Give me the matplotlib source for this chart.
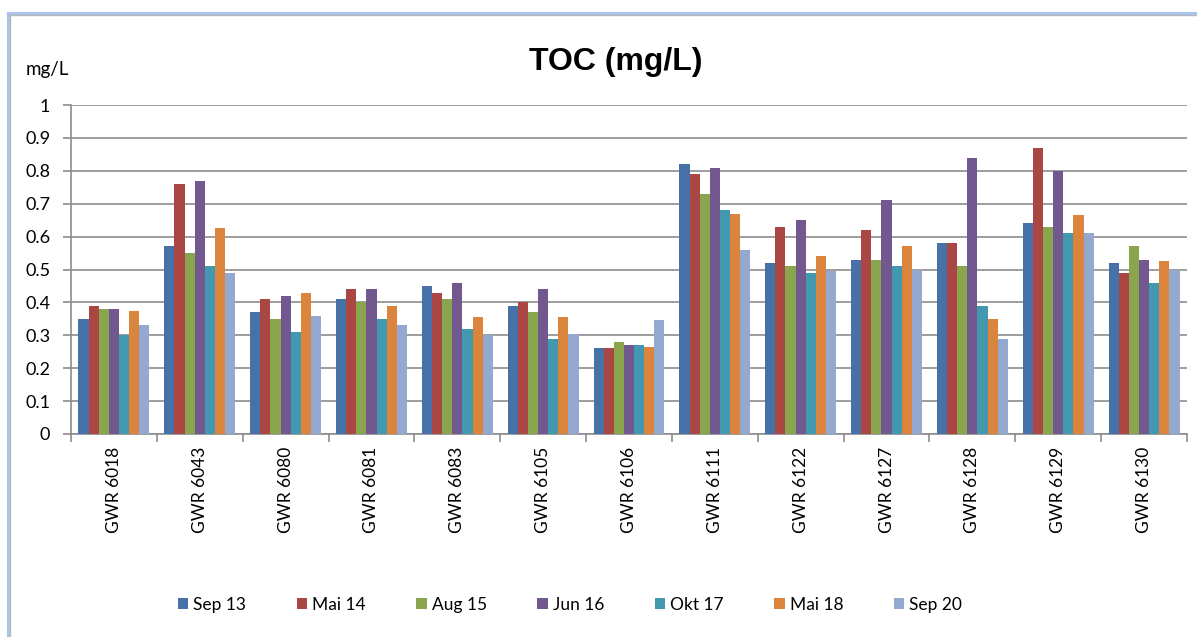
import matplotlib
matplotlib.use("Agg")
import matplotlib.pyplot as plt
import numpy as np
from matplotlib.lines import Line2D

plt.rcParams['font.family'] = ['Lato', 'DejaVu Sans']

stationen = ['GWR 6018', 'GWR 6043', 'GWR 6080', 'GWR 6081', 'GWR 6083',
             'GWR 6105', 'GWR 6106', 'GWR 6111', 'GWR 6122', 'GWR 6127',
             'GWR 6128', 'GWR 6129', 'GWR 6130']

serien = ['Sep 13', 'Mai 14', 'Aug 15', 'Jun 16', 'Okt 17', 'Mai 18', 'Sep 20']

sep13 = [0.35, 0.57, 0.37, 0.41, 0.45, 0.39, 0.26, 0.82, 0.52, 0.53, 0.58, 0.64, 0.52]
mai14 = [0.39, 0.76, 0.41, 0.44, 0.43, 0.40, 0.26, 0.79, 0.63, 0.62, 0.58, 0.87, 0.49]
aug15 = [0.38, 0.55, 0.35, 0.40, 0.41, 0.37, 0.28, 0.73, 0.51, 0.53, 0.51, 0.63, 0.57]
jun16 = [0.38, 0.77, 0.42, 0.44, 0.46, 0.44, 0.27, 0.81, 0.65, 0.71, 0.84, 0.80, 0.53]
okt17 = [0.30, 0.51, 0.31, 0.35, 0.32, 0.29, 0.27, 0.68, 0.49, 0.51, 0.39, 0.61, 0.46]
mai18 = [0.375, 0.625, 0.43, 0.39, 0.355, 0.355, 0.265, 0.67, 0.54, 0.57, 0.35, 0.665, 0.525]
sep20 = [0.33, 0.49, 0.36, 0.33, 0.30, 0.305, 0.345, 0.56, 0.495, 0.50, 0.29, 0.61, 0.50]

werte = [sep13, mai14, aug15, jun16, okt17, mai18, sep20]
farben = ['#4672A8', '#AA4644', '#89A54E', '#71588F', '#4198AF', '#DB843D', '#93A9CF']

fig = plt.figure(figsize=(11.97, 6.37), dpi=100)
ax = fig.add_axes([71 / 1197, 203 / 637, 1116 / 1197, 329 / 637])

x = np.arange(len(stationen))
breite = 0.118
for i, (name, vals) in enumerate(zip(serien, werte)):
    ax.bar(x + (i - 3) * breite, vals, breite, color=farben[i], label=name, zorder=3)

ax.set_xlim(-0.5, len(stationen) - 0.5)
ax.set_ylim(0, 1)
ax.set_yticks(np.arange(0, 1.01, 0.1))
ax.set_yticklabels(['0'] + ['%.1f' % v for v in np.arange(0.1, 0.95, 0.1)] + ['1'], fontsize=13)
ax.yaxis.grid(True, color='#8c8c8c', linewidth=1.2, zorder=0)

ax.set_xticks(x)
ax.set_xticklabels(stationen, rotation=90, fontsize=12.5)
ax.tick_params(axis='x', length=0, pad=9)
ax.set_xticks(np.arange(-0.5, len(stationen), 1), minor=True)
ax.tick_params(axis='x', which='minor', length=6, color='#8c8c8c', width=1.2)
ax.tick_params(axis='y', length=6, color='#8c8c8c', width=1.2, pad=9)

for s in ['top', 'right']:
    ax.spines[s].set_visible(False)
for s in ['left', 'bottom']:
    ax.spines[s].set_color('#8c8c8c')
    ax.spines[s].set_linewidth(1.2)

fig.text(616 / 1197, 1 - 62 / 637, 'TOC (mg/L)', ha='center', va='center',
         fontsize=23, fontweight='bold', family=['Liberation Sans', 'DejaVu Sans'])
fig.text(47 / 1197, 1 - 69 / 637, 'mg/L', ha='center', va='center', fontsize=13.5)

fig.legend(loc='center', bbox_to_anchor=(570 / 1197, 1 - 605 / 637), ncol=7,
           frameon=False, fontsize=12.5, handlelength=0.6, handleheight=0.6,
           handletextpad=0.3, columnspacing=2.9)

# Rahmen nur links und oben sichtbar
fig.lines.append(Line2D([8 / 1197, 8 / 1197], [0, 1 - 13 / 637], transform=fig.transFigure,
                        color='#A9C4F0', linewidth=2.2))
fig.lines.append(Line2D([8 / 1197, 1], [1 - 13 / 637, 1 - 13 / 637], transform=fig.transFigure,
                        color='#A9C4F0', linewidth=2.2))
fig.lines.append(Line2D([10 / 1197, 10 / 1197], [0, 1 - 15 / 637], transform=fig.transFigure,
                        color='#b8b8b8', linewidth=1))
fig.lines.append(Line2D([10 / 1197, 1], [1 - 15 / 637, 1 - 15 / 637], transform=fig.transFigure,
                        color='#b8b8b8', linewidth=1))

fig.savefig('out.png', dpi=100)
